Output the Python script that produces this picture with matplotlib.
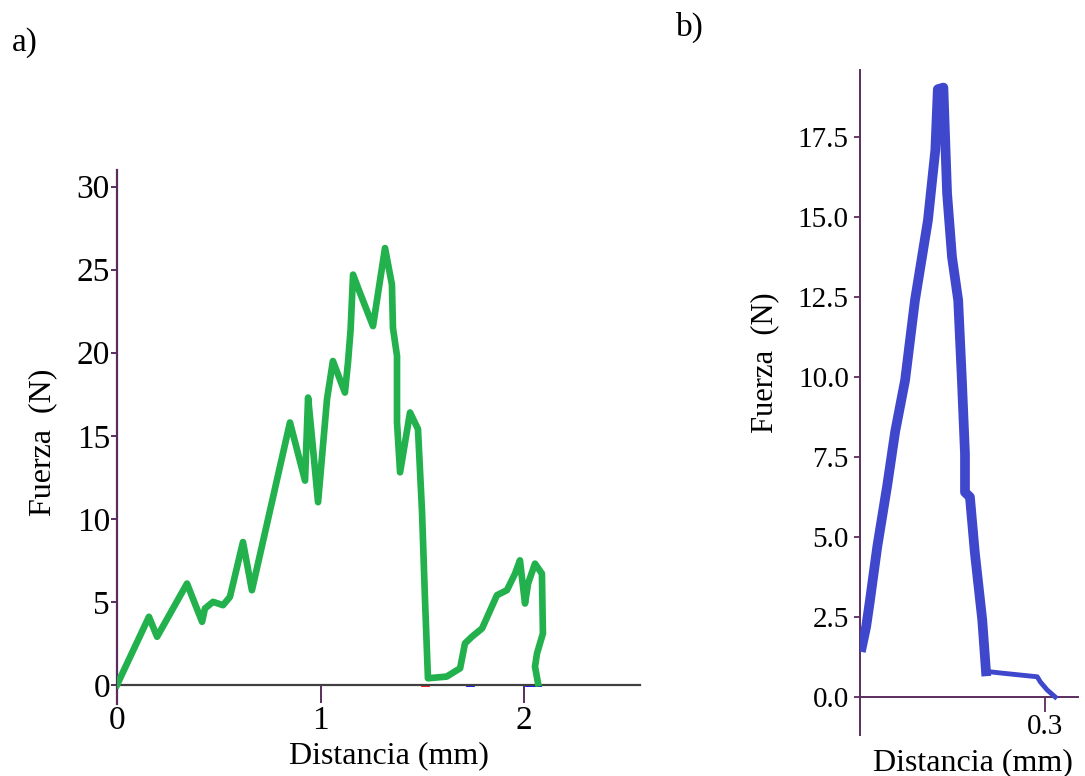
import matplotlib
matplotlib.use('Agg')
import matplotlib.pyplot as plt
import numpy as np

plt.rcParams['font.family'] = ['Liberation Serif', 'DejaVu Serif']

# panel a) force vs distance (green trace)
dist_a = [0.0, 0.157, 0.197, 0.344, 0.418, 0.432, 0.472, 0.521, 0.555, 0.619,
          0.663, 0.85, 0.924, 0.939, 0.958, 0.988, 1.032, 1.061, 1.12, 1.135,
          1.148, 1.16, 1.194, 1.258, 1.283, 1.317, 1.351, 1.356, 1.376, 1.376,
          1.391, 1.44, 1.479, 1.499, 1.513, 1.528, 1.62, 1.686, 1.71, 1.744,
          1.794, 1.867, 1.916, 1.956, 1.98, 2.005, 2.02, 2.054, 2.088, 2.093,
          2.064, 2.054, 2.069]
force_a = [0.0, 4.1, 2.9, 6.1, 3.8, 4.6, 5.0, 4.8, 5.3, 8.6,
           5.7, 15.8, 12.3, 17.3, 14.9, 11.0, 17.2, 19.5, 17.6, 19.4,
           21.4, 24.7, 23.6, 21.6, 23.6, 26.3, 24.1, 21.5, 19.8, 15.8,
           12.8, 16.4, 15.4, 10.4, 5.3, 0.4, 0.5, 1.0, 2.5, 2.9,
           3.4, 5.4, 5.7, 6.7, 7.5, 4.9, 6.1, 7.3, 6.7, 3.1,
           1.9, 1.1, 0.1]
# little coloured specks along the baseline
red_x = [1.50, 1.53]
blue_x = [1.72, 1.75]
blue2_x = [2.01, 2.08]

# panel b) force vs distance (blue trace)
dist_b = [0.003, 0.01, 0.016, 0.028, 0.044, 0.057, 0.073, 0.089, 0.11, 0.122,
          0.126, 0.135, 0.141, 0.149, 0.159, 0.165, 0.17, 0.17, 0.178, 0.186,
          0.198, 0.204, 0.227, 0.287, 0.292, 0.303, 0.316]
force_b = [1.56, 2.2, 3.0, 4.7, 6.6, 8.3, 9.9, 12.4, 14.9, 17.1,
           19.0, 19.05, 15.75, 13.75, 12.4, 9.9, 7.6, 6.4, 6.25, 4.5,
           2.4, 0.8, 0.75, 0.63, 0.47, 0.22, 0.0]

yticks_a = [0, 5, 10, 15, 20, 25, 30]
xticks_a = [0, 1, 2]
yticks_b = [0.0, 2.5, 5.0, 7.5, 10.0, 12.5, 15.0, 17.5]
xticks_b = [0.3]

purple = '#5a2d5e'
green = '#22b14c'
blue = '#3f48cc'

fig = plt.figure(figsize=(10.85, 7.76), dpi=100)

# ---- a)
ax = fig.add_axes([117/1085, 1-704/776, 523/1085, 534/776])
ax.plot(dist_a, force_a, color=green, lw=4.8, zorder=3)
ax.plot(red_x, [0, 0], color='red', lw=2, zorder=2)
ax.plot(blue_x, [0, 0], color='blue', lw=2, zorder=2)
ax.plot(blue2_x, [0, 0], color='blue', lw=2, zorder=2)
ax.set_xlim(0, 2.57)
ax.set_ylim(-1.15, 31)
for s in ['top', 'right']:
    ax.spines[s].set_visible(False)
ax.spines['bottom'].set_position(('data', 0))
ax.spines['bottom'].set_color('#404040')
ax.spines['bottom'].set_linewidth(1.6)
ax.spines['left'].set_color(purple)
ax.spines['left'].set_linewidth(1.6)
ax.set_xticks(xticks_a)
ax.set_yticks(yticks_a)
ax.tick_params(axis='x', direction='out', length=13, width=1.4, color=purple,
               labelsize=24, pad=2)
ax.tick_params(axis='y', direction='out', length=4, width=1.4, color=purple,
               labelsize=24, pad=1)
ax.set_xlabel('Distancia (mm)', fontsize=23, labelpad=0)
ax.set_ylabel('Fuerza  (N)', fontsize=23)
ax.xaxis.set_label_coords(0.52, -0.07)
ax.yaxis.set_label_coords(-0.115, 0.49)

# ---- b)
bx = fig.add_axes([860/1085, 1-735/776, 218/1085, 665/776])
bx.plot(dist_b[:22], force_b[:22], color=blue, lw=7, zorder=3)
bx.plot(dist_b[21:], force_b[21:], color=blue, lw=3.5, zorder=3)
bx.set_xlim(0, 0.353)
bx.set_ylim(-1.19, 19.6)
for s in ['top', 'right']:
    bx.spines[s].set_visible(False)
bx.spines['bottom'].set_position(('data', 0))
bx.spines['bottom'].set_color(purple)
bx.spines['bottom'].set_linewidth(1.4)
bx.spines['left'].set_color(purple)
bx.spines['left'].set_linewidth(1.4)
bx.set_xticks(xticks_b)
bx.set_xticklabels(['0.3'])
bx.set_yticks(yticks_b)
bx.set_yticklabels(['%.1f' % v for v in yticks_b])
bx.tick_params(axis='x', direction='out', length=11, width=1.3, color=purple,
               labelsize=21, pad=1)
bx.tick_params(axis='y', direction='out', length=4, width=1.3, color=purple,
               labelsize=21, pad=4)
bx.set_ylabel('Fuerza  (N)', fontsize=22)
bx.yaxis.set_label_coords(-0.372, 0.56)
bx.set_xlabel('Distancia (mm)', fontsize=23)
bx.xaxis.set_label_coords(0.52, -0.02)

fig.text(12/1085, 1-43/776, 'a)', fontsize=24, va='center', ha='left')
fig.text(676/1085, 1-27/776, 'b)', fontsize=24, va='center', ha='left')

plt.savefig('out.png', dpi=100)
